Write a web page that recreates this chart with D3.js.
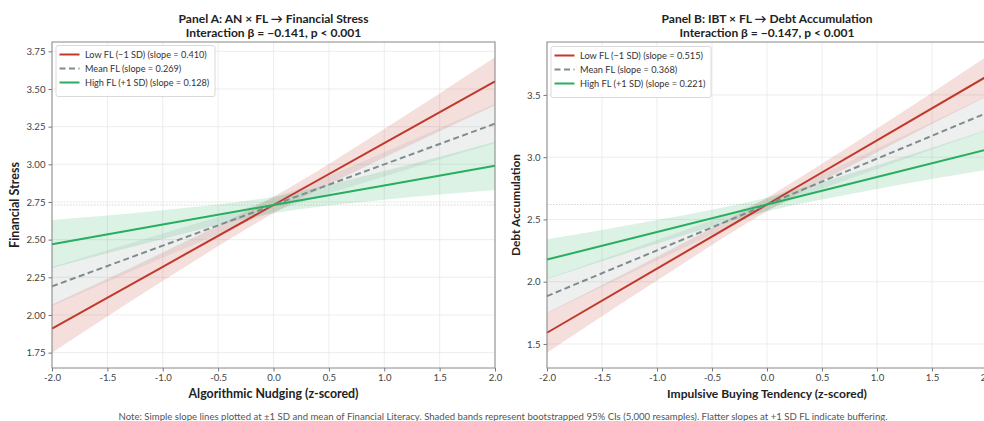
<!doctype html>
<html lang="en">
<head>
<meta charset="utf-8">
<title>Simple slopes</title>
<style type="text/css">
  body { margin: 0; background-color: #ffffff; }
  svg { display: block; overflow: hidden; }
  text { font-family: Lato, "Noto Sans", sans-serif; }
</style>
</head>
<body>
<script src="https://d3js.org/d3.v7.min.js"></script>
<script>

// x positions (z-scored predictor) where lines and bands are read
var xs = [-2, -1, 0, 1, 2];
var xTicks = [-2.0, -1.5, -1.0, -0.5, 0.0, 0.5, 1.0, 1.5, 2.0];

// Panel A: AN x FL -> Financial Stress
var lowA = [1.91, 2.32, 2.73, 3.14, 3.55];
var lowA_lo = [1.75, 2.225, 2.675, 3.045, 3.39];
var lowA_hi = [2.07, 2.415, 2.785, 3.235, 3.71];
var meanA = [2.19, 2.46, 2.73, 3.00, 3.27];
var meanA_lo = [2.06, 2.38, 2.685, 2.92, 3.14];
var meanA_hi = [2.32, 2.54, 2.775, 3.08, 3.40];
var highA = [2.47, 2.60, 2.73, 2.86, 2.99];
var highA_lo = [2.31, 2.505, 2.675, 2.765, 2.83];
var highA_hi = [2.63, 2.695, 2.785, 2.955, 3.15];
var refA = 2.73;
var yTicksA = [1.75, 2.00, 2.25, 2.50, 2.75, 3.00, 3.25, 3.50, 3.75];

// Panel B: IBT x FL -> Debt Accumulation
var lowB = [1.59, 2.105, 2.62, 3.135, 3.65];
var lowB_lo = [1.43, 2.01, 2.565, 3.04, 3.49];
var lowB_hi = [1.75, 2.20, 2.675, 3.23, 3.81];
var meanB = [1.884, 2.252, 2.62, 2.988, 3.356];
var meanB_lo = [1.745, 2.17, 2.575, 2.905, 3.215];
var meanB_hi = [2.025, 2.335, 2.665, 3.07, 3.495];
var highB = [2.178, 2.399, 2.62, 2.841, 3.062];
var highB_lo = [2.02, 2.305, 2.565, 2.745, 2.90];
var highB_hi = [2.34, 2.495, 2.675, 2.935, 3.22];
var refB = 2.62;
var yTicksB = [1.5, 2.0, 2.5, 3.0, 3.5];

var names = ["Low FL (\u22121 SD)", "Mean FL", "High FL (+1 SD)"];
var slopesA = ["0.410", "0.269", "0.128"];
var slopesB = ["0.515", "0.368", "0.221"];
var colors = ["#c0392b", "#7f8c8d", "#27ae60"];

var w = 984, h = 421;

var svg = d3.select("body")
  .append("svg")
  .attr("width", w)
  .attr("height", h);

// scale a text's font so that it is as wide as the reference text
function fit(sel, base, target) {
  sel.style("font-size", base + "px");
  var w0 = sel.node().getComputedTextLength();
  var s = base * target / w0;
  sel.style("font-size", s + "px");
  return s;
}

function drawPanel(cfg) {
  var x = d3.scaleLinear().domain([-2, 2]).range([cfg.left, cfg.right]);
  var y = d3.scaleLinear().domain(cfg.yDomain).range([368, 42]);
  var g = svg.append("g");

  // grid
  g.selectAll(".gx").data(xTicks).enter().append("line")
    .attr("x1", d => x(d)).attr("x2", d => x(d))
    .attr("y1", 42).attr("y2", 368)
    .style("stroke", "#e8e8e8").style("stroke-width", 0.8);
  g.selectAll(".gy").data(cfg.yTicks).enter().append("line")
    .attr("x1", cfg.left).attr("x2", cfg.right)
    .attr("y1", d => y(d)).attr("y2", d => y(d))
    .style("stroke", "#e8e8e8").style("stroke-width", 0.8);

  // reference line at outcome mean
  g.append("line")
    .attr("x1", cfg.left).attr("x2", cfg.right)
    .attr("y1", y(cfg.ref)).attr("y2", y(cfg.ref))
    .style("stroke", "#d5d5d5").style("stroke-width", 1)
    .style("stroke-dasharray", "1.5,1.5");

  var area = d3.area()
    .x((d, i) => x(xs[i]))
    .y0(d => y(d[0])).y1(d => y(d[1]))
    .curve(d3.curveMonotoneX);
  var line = d3.line()
    .x((d, i) => x(xs[i])).y(d => y(d));

  cfg.series.forEach(function(s, k) {
    g.append("path")
      .attr("d", area(s.lo.map((v, i) => [v, s.hi[i]])))
      .style("fill", colors[k])
      .style("fill-opacity", k == 1 ? 0.13 : 0.16)
      .style("stroke", "none");
  });
  cfg.series.forEach(function(s, k) {
    g.append("path")
      .attr("d", line(s.mid))
      .style("fill", "none")
      .style("stroke", colors[k])
      .style("stroke-width", 2)
      .style("stroke-dasharray", k == 1 ? "6,3.5" : null);
  });

  // axes
  var xAxis = g.append("g")
    .attr("transform", "translate(0,368)")
    .call(d3.axisBottom(x).tickValues(xTicks).tickFormat(d3.format(".1f")).tickSize(3.5).tickPadding(2.5));
  var yAxis = g.append("g")
    .attr("transform", "translate(" + cfg.left + ",0)")
    .call(d3.axisLeft(y).tickValues(cfg.yTicks).tickFormat(d3.format(cfg.yFmt)).tickSize(3.5).tickPadding(3));
  var tickSize = fit(xAxis.select(".tick text").text("-2.0"), 10, 17);
  [xAxis, yAxis].forEach(function(a) {
    a.select(".domain").remove();
    a.selectAll("line").style("stroke", "#777");
    a.selectAll("text").style("font-size", tickSize + "px").style("fill", "#444")
      .text(function() { return d3.select(this).text().replace("\u2212", "-"); });
  });

  // frame
  g.append("rect")
    .attr("x", cfg.left).attr("y", 42)
    .attr("width", cfg.right - cfg.left).attr("height", 326)
    .style("fill", "none").style("stroke", "#888").style("stroke-width", 1);

  // titles
  var cx = (cfg.left + cfg.right) / 2;
  var t1 = g.append("text").attr("x", cx).attr("y", 23.3).attr("text-anchor", "middle")
    .style("font-weight", "bold").style("fill", "#222")
    .text(cfg.title1);
  var ts = fit(t1, 11, cfg.titleW);
  g.append("text").attr("x", cx).attr("y", 37).attr("text-anchor", "middle")
    .style("font-weight", "bold").style("font-size", ts + "px").style("fill", "#222")
    .text(cfg.title2);
  var xl = g.append("text").attr("x", cx).attr("y", 397.5).attr("text-anchor", "middle")
    .style("font-weight", "bold").style("fill", "#222")
    .text(cfg.xLabel);
  fit(xl, 11, cfg.xLabelW);
  var yl = g.append("text")
    .attr("transform", "translate(" + cfg.yLabelX + "," + 205 + ") rotate(-90)")
    .attr("text-anchor", "middle")
    .style("font-weight", "bold").style("fill", "#222")
    .text(cfg.yLabel);
  fit(yl, 10, cfg.yLabelW);

  // legend
  var lg = g.append("g").attr("transform", "translate(" + (cfg.left + 4) + "," + cfg.legendY + ")");
  var box = lg.append("rect").attr("height", 51).attr("rx", 2)
    .style("fill", "#ffffff").style("fill-opacity", 0.85)
    .style("stroke", "#d0d0d0").style("stroke-width", 0.8);
  var ls = 9;
  cfg.slopes.forEach(function(sl, k) {
    var yy = 9 + k * 14;
    lg.append("line").attr("x1", 3.5).attr("x2", 23.5).attr("y1", yy).attr("y2", yy)
      .style("stroke", colors[k]).style("stroke-width", 2)
      .style("stroke-dasharray", k == 1 ? "6,3.5" : null);
    var lt = lg.append("text").attr("x", 29).attr("y", yy + 3.3)
      .style("fill", "#333")
      .text(names[k] + " (slope = " + sl + ")");
    if (k == 0) ls = fit(lt, 9, cfg.legendW);
    else lt.style("font-size", ls + "px");
  });
  box.attr("width", 29 + cfg.legendW + 8);
}

drawPanel({
  left: 52, right: 495, yDomain: [1.648, 3.812], yTicks: yTicksA, yFmt: ".2f",
  ref: refA, slopes: slopesA, legendY: 45.5, legendW: 122,
  title1: "Panel A: AN \u00d7 FL \u2192 Financial Stress", titleW: 190,
  title2: "Interaction \u03b2 = \u22120.141, p < 0.001",
  xLabel: "Algorithmic Nudging (z-scored)", xLabelW: 170,
  yLabel: "Financial Stress", yLabelX: 19, yLabelW: 86,
  series: [
    { mid: lowA, lo: lowA_lo, hi: lowA_hi },
    { mid: meanA, lo: meanA_lo, hi: meanA_hi },
    { mid: highA, lo: highA_lo, hi: highA_hi }
  ]
});

drawPanel({
  left: 547, right: 987, yDomain: [1.307, 3.925], yTicks: yTicksB, yFmt: ".1f",
  ref: refB, slopes: slopesB, legendY: 46.5, legendW: 123,
  title1: "Panel B: IBT \u00d7 FL \u2192 Debt Accumulation", titleW: 211,
  title2: "Interaction \u03b2 = \u22120.147, p < 0.001",
  xLabel: "Impulsive Buying Tendency (z-scored)", xLabelW: 200,
  yLabel: "Debt Accumulation", yLabelX: 520, yLabelW: 102,
  series: [
    { mid: lowB, lo: lowB_lo, hi: lowB_hi },
    { mid: meanB, lo: meanB_lo, hi: meanB_hi },
    { mid: highB, lo: highB_lo, hi: highB_hi }
  ]
});

var note = svg.append("text").attr("x", 503).attr("y", 419.5).attr("text-anchor", "middle")
  .style("fill", "#555")
  .text("Note: Simple slope lines plotted at \u00b11 SD and mean of Financial Literacy. Shaded bands represent bootstrapped 95% CIs (5,000 resamples). Flatter slopes at +1 SD FL indicate buffering.");
fit(note, 8, 770);

</script>
</body>
</html>
